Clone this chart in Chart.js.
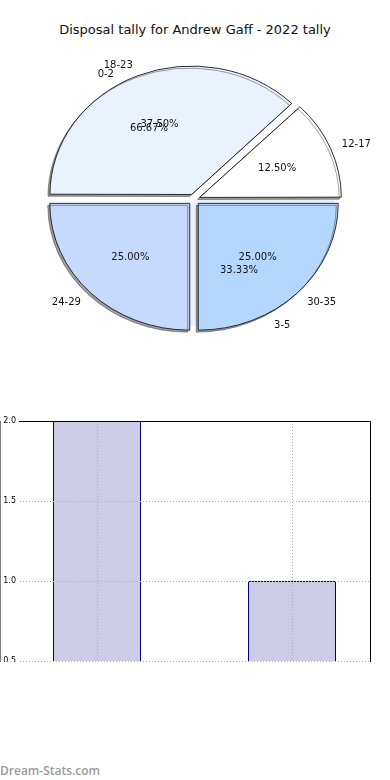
<!DOCTYPE html>
<html>
<head>
<meta charset="utf-8">
<script src="https://cdn.jsdelivr.net/npm/chart.js@4"></script>
<style>
  body { margin: 0; background: #fff; width: 390px; height: 780px; position: relative; overflow: hidden; font-family: 'DejaVu Sans', sans-serif; }
  #title { position: absolute; top: 22px; left: 0; width: 390px; text-align: center; font-size: 13px; color: #111; }
  .pie { position: absolute; left: -1px; top: 0; }
  #barWrap { position: absolute; left: 0; top: 410px; width: 390px; height: 252px; overflow: hidden; }
  #mark { position: absolute; left: 0; top: 762px; font: 600 12px 'Open Sans', sans-serif; color: #9a9a9a; }
</style>
</head>
<body>
<div id="title">Disposal tally for Andrew Gaff - 2022 tally</div>
<canvas id="pieTally" class="pie" width="390" height="399"></canvas>
<canvas id="pieAge" class="pie" width="390" height="399"></canvas>
<div id="barWrap"><canvas id="bars" width="390" height="260"></canvas></div>
<div id="mark">Dream-Stats.com</div>

<script>
// data (matplotlib order: counter-clockwise from 3 o'clock)
const ageGroups = ['12-17', '18-23', '24-29', '30-35'];
const agePct = [12.5, 37.5, 25, 25];
const tallyGroups = ['0-2', '3-5'];
const tallyPct = [66.67, 33.33];
const barValues = [2, 1];
const yTicks = [0.5, 1.0, 1.5, 2.0];

const pieColors = ['#FFFFFF', '#EAF1FF', '#C6D9FF', '#B5D7FF'];
const SY = 0.906;   // the original pie is squashed into an ellipse
const R = 140;
const LIFT = 24;    // chart.js moves a slice by offset/4

// squash the pie vertically, optionally with a drop shadow
function squash(shadow) {
    return {
        id: 'squash',
        beforeDatasetsDraw(chart) {
            const ctx = chart.ctx, a = chart.chartArea;
            const cx = (a.left + a.right) / 2, cy = (a.top + a.bottom) / 2;
            ctx.save();
            ctx.translate(cx, cy);
            ctx.scale(1, SY);
            ctx.translate(-cx, -cy);
            if (shadow) {
                ctx.shadowColor = 'rgba(0,0,0,0.38)';
                ctx.shadowOffsetX = -2;
                ctx.shadowOffsetY = 2;
            }
        },
        afterDatasetsDraw(chart) {
            chart.ctx.restore();
        }
    };
}

function drawLabels(chart, ctx) {
    const meta = chart.getDatasetMeta(0);
    const values = chart.data.datasets[0].data;
    ctx.save();
    ctx.font = '10px "DejaVu Sans"';
    ctx.fillStyle = '#111';
    ctx.textBaseline = 'middle';
    meta.data.forEach((arc, i) => {
        const mid = (arc.startAngle + arc.endAngle) / 2;
        const dx = Math.cos(mid), dy = Math.sin(mid);
        const at = k => [arc.x + (LIFT / 4 + k * R) * dx, arc.y + (LIFT / 4 + k * R) * dy * SY];
        let p = at(1.1);
        ctx.textAlign = dx > 0 ? 'left' : 'right';
        ctx.fillText(chart.data.labels[i], p[0], p[1]);
        p = at(0.6);
        ctx.textAlign = 'center';
        ctx.fillText(values[i].toFixed(2) + '%', p[0], p[1]);
    });
    ctx.restore();
}

function makePie(id, labels, values, front, extra) {
    // chart.js runs clockwise, so reverse to keep the same layout
    return new Chart(document.getElementById(id), {
        type: 'pie',
        data: {
            labels: labels.slice().reverse(),
            datasets: [{
                data: values.slice().reverse(),
                backgroundColor: pieColors.slice(0, labels.length).reverse(),
                borderColor: front ? '#222' : 'rgba(0,0,0,0)',
                borderWidth: front ? 1 : 0,
                borderJoinStyle: 'miter',
                offset: front ? LIFT : 0
            }]
        },
        options: {
            responsive: false,
            animation: false,
            rotation: 90,
            radius: R,
            events: [],
            plugins: { legend: { display: false }, tooltip: { enabled: false } }
        },
        plugins: [squash(front)].concat(extra || [])
    });
}

// the 0-2 / 3-5 pie sits underneath and only shows through the gaps
const tallyChart = makePie('pieTally', tallyGroups, tallyPct, false);

const labelPlugin = {
    id: 'pieLabels',
    afterDraw(chart) {
        drawLabels(chart, chart.ctx);
        drawLabels(tallyChart, chart.ctx);
    }
};
makePie('pieAge', ageGroups, agePct, true, [labelPlugin]);

// bar chart
const frame = {
    id: 'frame',
    afterDraw(chart) {
        const { ctx, chartArea: a } = chart;
        ctx.save();
        ctx.strokeStyle = '#000';
        ctx.lineWidth = 1;
        ctx.beginPath();
        ctx.moveTo(a.left, a.top + 0.5);
        ctx.lineTo(a.right + 0.5, a.top + 0.5);
        ctx.lineTo(a.right + 0.5, a.bottom + 20);
        ctx.stroke();
        ctx.restore();
    }
};

new Chart(document.getElementById('bars'), {
    type: 'bar',
    data: {
        datasets: [{
            data: barValues.map((v, i) => ({ x: i, y: v })),
            backgroundColor: '#CCCCE6',
            borderColor: '#000080',
            borderWidth: 1,
            categoryPercentage: 1,
            barPercentage: 0.4513
        }]
    },
    options: {
        responsive: false,
        animation: false,
        events: [],
        layout: { padding: { left: 0, right: 20, top: 11, bottom: 9 } },
        plugins: { legend: { display: false }, tooltip: { enabled: false } },
        scales: {
            x: {
                type: 'linear',
                offset: false,
                min: -0.4,
                max: 1.4,
                afterBuildTicks: s => { s.ticks = barValues.map((v, i) => ({ value: i })); },
                afterFit: s => { s.height = 0; },
                ticks: { display: false },
                grid: { color: '#b0b0b0', drawTicks: false, offset: false, z: 1 },
                border: { display: false, dash: [1, 2] }
            },
            y: {
                min: 0.5,
                max: 2.0,
                afterBuildTicks: s => { s.ticks = yTicks.map(v => ({ value: v })); },
                afterFit: s => { s.width = 19; },
                ticks: {
                    padding: 3,
                    color: '#000',
                    font: { family: 'DejaVu Sans', size: 8 },
                    callback: v => v.toFixed(1)
                },
                grid: { color: '#b0b0b0', drawTicks: false, z: 1 },
                border: { display: true, color: '#000', width: 1, dash: [1, 2] }
            }
        }
    },
    plugins: [frame]
});
</script>
</body>
</html>
